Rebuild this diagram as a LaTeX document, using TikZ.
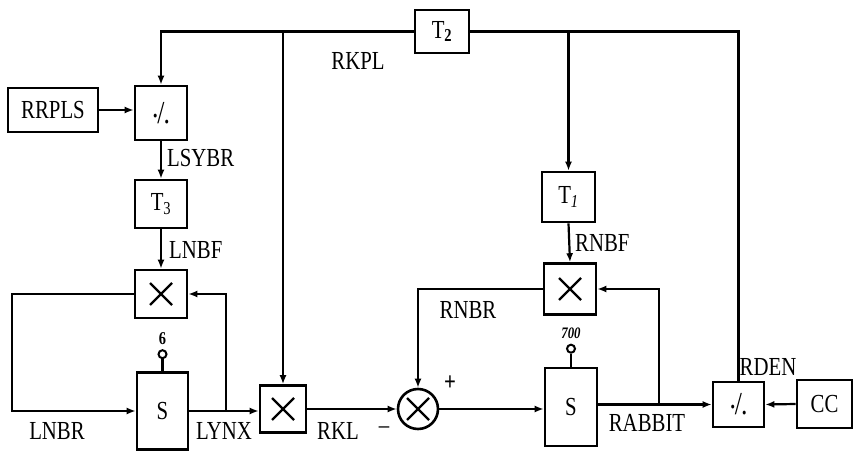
\documentclass[tikz,border=0pt]{standalone}
\usepackage{fontspec}
\setmainfont[FakeStretch=0.8]{Liberation Serif}
\usetikzlibrary{arrows.meta,calc}
\begin{document}
\begin{tikzpicture}[x=1pt,y=-1pt,
  box/.style={draw,line width=2.6pt,inner sep=0pt,font=\fontsize{26}{26}\selectfont},
  crossp/.style={path picture={\draw[line width=2.2pt]
      ($(path picture bounding box.center)+(-11,-11)$) -- ++(22,22)
      ($(path picture bounding box.center)+(-11,11)$) -- ++(22,-22);}},
  mul/.style={box,crossp},
  conn/.style={line width=2.2pt},
  arr/.style={conn,-{Latex[length=9pt,width=7pt]}},
  lbl/.style={font=\fontsize{26}{26}\selectfont,inner sep=0pt},
  knob/.style={draw,circle,line width=2pt,minimum size=8pt,inner sep=0pt},
  knobtxt/.style={font=\fontsize{18}{18}\selectfont\bfseries,inner sep=0pt},
  divtxt/.style={font=\fontsize{32}{32}\selectfont}]
\useasboundingbox (0,0) rectangle (854,454);
% boxes
\node[box,minimum width=54pt,minimum height=43pt] (T2) at (442,31.5) {T\textsubscript{\bfseries 2}};
\node[box,minimum width=90pt,minimum height=44pt] (rrpls) at (53,110) {RRPLS};
\node[box,divtxt,minimum width=52pt,minimum height=54pt] (div1) at (161,113) {\raisebox{6pt}{.}\kern-1pt/\kern-1pt.};
\node[box,minimum width=52pt,minimum height=48pt] (T3) at (161,204) {T\textsubscript{3}};
\node[mul,minimum width=52pt,minimum height=48pt] (mulL) at (161,294) {};
\node[box,minimum width=51pt,minimum height=77pt] (S1) at (162.5,411) {S};
\node[mul,minimum width=46pt,minimum height=47pt] (mulK) at (283,409) {};
\node[draw,circle,line width=2.6pt,minimum size=40pt,inner sep=0pt,crossp] (circ) at (418,409) {};
\node[box,minimum width=52pt,minimum height=78pt] (S2) at (571,407) {S};
\node[mul,minimum width=52pt,minimum height=51pt] (mulR) at (570,289) {};
\node[box,minimum width=53pt,minimum height=50pt] (T1) at (568.5,197) {T\textsubscript{\itshape 1}};
\node[box,divtxt,minimum width=51pt,minimum height=45pt] (div2) at (738.5,404.5) {\raisebox{6pt}{.}\kern-1pt/\kern-1pt.};
\node[box,minimum width=55pt,minimum height=48pt] (CC) at (824.5,404) {CC};
% knobs
\node[knob] (k1) at ($(S1.north)+(0,-17)$) {};
\node[knobtxt] (six) at ($(k1.north)+(0,-11)$) {6};
\draw[conn] (S1.north) -- (k1.south);
\node[knob] (k2) at ($(S2.north)+(0,-18)$) {};
\node[knobtxt,font=\fontsize{16}{16}\selectfont\bfseries\itshape] (seven) at ($(k2.north)+(0,-10)$) {700};
\draw[conn] (S2.north) -- (k2.south);
% top distribution
\draw[arr] (T2.west) -| (div1.north);
\draw[arr] (mulK.north |- T2.west) -- (mulK.north);
\draw[conn] (T2.east) -| (div2.north);
\draw[arr] (T1.north |- T2.east) -- (T1.north);
\node[lbl] (rkpl) at (358,61) {RKPL};
% left chain
\draw[arr] (rrpls.east) -- (rrpls.east -| div1.west);
\draw[arr] (div1.south) -- (T3.north);
\node[lbl,anchor=west] (lsybr) at (167,158) {LSYBR};
\draw[arr] (T3.south) -- (mulL.north);
\node[lbl,anchor=west] (lnbf) at (169,250) {LNBF};
\draw[arr] (mulL.west) -- ++(-122,0) |- (S1.west);
\node[lbl] (lnbr) at (57,431) {LNBR};
\draw[arr] (S1.east) -- (S1.east -| mulK.west);
\coordinate (br1) at (226,411);
\draw[arr] (br1) |- (mulL.east);
\node[lbl] (lynx) at (224,431) {LYNX};
\draw[arr] (mulK.east) -- (circ.west);
\node[lbl] (rkl) at (338,431) {RKL};
\node[lbl] (minus) at (384,430) {--};
\node[lbl,font=\fontsize{26}{26}\selectfont\bfseries] (plus) at (450,383) {+};
% right chain
\draw[arr] (circ.east) -- (circ.east -| S2.west);
\draw[arr] (T1.south) -- (mulR.north);
\node[lbl,anchor=west] (rnbf) at (575,243) {RNBF};
\draw[arr] (mulR.west) -| (circ.north);
\node[lbl] (rnbr) at (468,310) {RNBR};
\draw[arr] (S2.east |- div2.west) -- (div2.west);
\coordinate (br2) at (659,404.5);
\draw[arr] (br2) |- (mulR.east);
\node[lbl] (rabbit) at (647,423) {RABBIT};
\draw[arr] (CC.west) -- (div2.east);
\node[lbl] (rden) at (768,367) {RDEN};
\end{tikzpicture}
\end{document}
